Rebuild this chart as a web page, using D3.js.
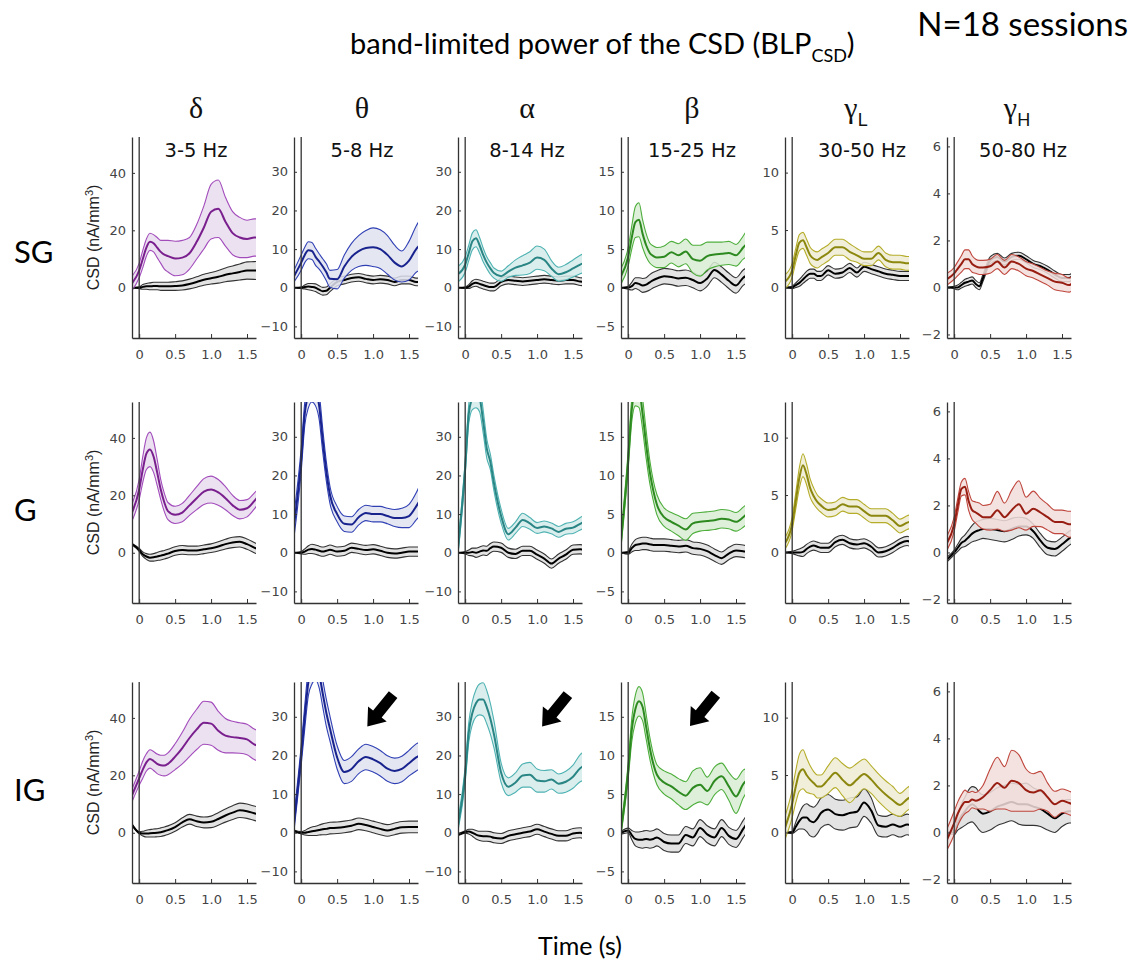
<!DOCTYPE html>
<html>
<head>
<meta charset="utf-8">
<script src="https://cdn.jsdelivr.net/npm/d3@7"></script>
<style>
  body { margin: 0; background: #fff; }
  svg { display: block; }
</style>
</head>
<body>
<svg id="chart" width="1139" height="970"></svg>
<script>
// ---- data ----
const times = [-0.1, 0, 0.05, 0.1, 0.15, 0.2, 0.25, 0.3, 0.35, 0.4, 0.5, 0.6, 0.7, 0.8, 0.9, 1.0, 1.1, 1.2, 1.3, 1.4, 1.5, 1.6, 1.65];

const bandSymbols = ['δ', 'θ', 'α', 'β', 'γ', 'γ'];
const bandSubs = ['', '', '', '', 'L', 'H'];
const bandRanges = ['3-5 Hz', '5-8 Hz', '8-14 Hz', '15-25 Hz', '30-50 Hz', '50-80 Hz'];
const layers = ['SG', 'G', 'IG'];

const yDomains = [[-17.5, 52.5], [-13, 39], [-13, 39], [-6.5, 19.5], [-4.4, 13.1], [-2.15, 6.4]];
const yTickValues = [[0, 20, 40], [-10, 0, 10, 20, 30], [-10, 0, 10, 20, 30], [-5, 0, 5, 10, 15], [0, 5, 10], [-2, 0, 2, 4, 6]];
const xTickValues = [0, 0.5, 1.0, 1.5];

// SG: stimulus band power (mean, sem) and control (mean, sem)
const sgMean = [
  [1.5, 6, 10, 14, 16, 15.5, 14, 12.5, 11.5, 11, 10.2, 10.5, 12, 16, 21, 26.5, 27.5, 23, 19, 17.5, 17, 17.5, 17.5],
  [3, 6.5, 8.5, 9.7, 9.5, 8, 6.8, 5.5, 4, 2.3, 2.2, 5.5, 8, 9.5, 10.3, 10.5, 10, 8.5, 6.5, 5.5, 7, 10, 11],
  [3.5, 6, 9, 12, 12.8, 11, 8.5, 6.5, 5, 3.8, 3, 4.2, 5.2, 5.8, 6.5, 7.8, 7.2, 5, 3.5, 4, 5, 6, 6.4],
  [1.5, 4, 6.5, 8.5, 8.8, 7, 5.5, 4.5, 4.1, 3.9, 4, 4.6, 4.2, 4.7, 3.7, 3.5, 4.1, 4.3, 4.4, 4.5, 4.2, 5.2, 5.7],
  [0.5, 1.5, 2.8, 3.9, 4.1, 3.5, 2.8, 2.5, 2.4, 2.6, 3, 3.5, 3.5, 3.1, 2.8, 2.5, 2.5, 3, 2.4, 2.2, 2.2, 2.1, 2.1],
  [0.35, 0.6, 0.8, 1.0, 1.2, 1.2, 1.0, 0.9, 0.85, 0.85, 0.9, 1.1, 0.85, 1.1, 1.0, 0.8, 0.7, 0.55, 0.4, 0.25, 0.2, 0.1, 0.2]
];
const sgErr = [
  [2.5, 2.5, 3, 3, 3, 3, 3.5, 4, 5, 5.5, 6, 6, 5.5, 6, 7.5, 9.5, 10, 8.5, 7.5, 7, 6.5, 6.5, 6.5],
  [1.5, 2, 2, 2.2, 2.2, 2.2, 2, 2, 2.2, 2.2, 2.5, 3, 3.5, 4, 4.5, 5, 5, 5, 4.5, 4, 5, 6, 6.5],
  [2, 2, 2, 2.2, 2.2, 2, 1.8, 1.5, 1.5, 1.3, 1.3, 1.5, 2, 2.5, 2.8, 3, 2.8, 2, 1.8, 2, 2.2, 2.4, 2.4],
  [1, 1.2, 1.5, 2, 2.2, 1.8, 1.5, 1.3, 1.3, 1.3, 1.4, 1.4, 1.5, 1.6, 1.8, 2, 1.8, 1.6, 1.5, 1.5, 1.4, 1.5, 1.7],
  [0.6, 0.6, 0.6, 0.7, 0.7, 0.7, 0.7, 0.7, 0.7, 0.7, 0.7, 0.7, 0.7, 0.7, 0.6, 0.6, 0.6, 0.6, 0.6, 0.6, 0.6, 0.6, 0.6],
  [0.25, 0.25, 0.3, 0.35, 0.4, 0.4, 0.35, 0.3, 0.3, 0.3, 0.3, 0.3, 0.3, 0.3, 0.3, 0.3, 0.3, 0.3, 0.3, 0.35, 0.35, 0.3, 0.3]
];
const sgCtrl = [
  [0, 0, 0.3, 0.5, 0.5, 0.6, 0.6, 0.5, 0.5, 0.5, 0.6, 0.8, 1.3, 2, 2.8, 3.3, 3.8, 4.5, 5, 5.5, 6, 6, 6],
  [0, 0, 0.2, 0.3, 0.2, 0, -0.5, -0.9, -0.8, 0, 1.5, 2, 2.5, 2.7, 2.3, 2, 2.2, 2, 1.5, 2, 2, 1.5, 1.5],
  [0, 0, 0.3, 1, 1.3, 1, 0.7, 0.4, 0.2, 0.2, 1.5, 2, 1.8, 1.6, 1.8, 2, 2.2, 2, 1.8, 2, 2, 1.6, 1.5],
  [0, 0, 0.2, 0.6, 0.5, 0.3, 0.4, 0.7, 1, 1.2, 1.5, 1.4, 1.2, 1.3, 1, 0.6, 1.2, 2.3, 1.7, 0.9, 0.3, 1.3, 1.6],
  [0, 0, 0.2, 0.4, 0.7, 1, 1.2, 1.2, 1, 1, 1.5, 1.2, 1.3, 1.7, 1.3, 1.8, 1.6, 1.4, 1.2, 1.1, 1, 1, 1],
  [0, 0, 0, 0.1, 0.2, 0.25, 0.3, 0.15, 0.05, 0.4, 1.15, 1.3, 1.1, 1.3, 1.35, 1.2, 1.0, 0.9, 0.75, 0.55, 0.4, 0.4, 0.5]
];
const sgCtrlErr = [
  [0, 0.3, 0.8, 1, 1.2, 1.3, 1.3, 1.4, 1.4, 1.4, 1.5, 1.6, 1.7, 1.8, 1.9, 2, 2.2, 2.4, 2.6, 2.8, 3, 3.1, 3.2],
  [0, 0.2, 0.5, 0.8, 0.9, 1, 1, 1, 1, 1, 1, 1, 1, 1, 1, 1, 1, 1, 1, 1, 1, 1, 1],
  [0, 0.2, 0.5, 0.8, 0.9, 1, 1, 1, 1, 1, 1, 1, 1, 1, 1, 1, 1, 1, 1, 1, 1, 1, 1],
  [0, 0.2, 0.5, 0.7, 0.8, 0.9, 0.9, 1, 1, 1, 1, 1, 1, 1, 1, 1, 1, 1, 1, 1, 1, 1, 1],
  [0, 0.1, 0.2, 0.3, 0.35, 0.4, 0.4, 0.4, 0.4, 0.4, 0.4, 0.4, 0.4, 0.4, 0.4, 0.4, 0.4, 0.4, 0.4, 0.4, 0.4, 0.4, 0.4],
  [0, 0.05, 0.1, 0.12, 0.15, 0.15, 0.15, 0.15, 0.15, 0.15, 0.15, 0.15, 0.15, 0.15, 0.15, 0.15, 0.15, 0.15, 0.15, 0.15, 0.15, 0.15, 0.15]
];

// G
const gMean = [
  [14, 22, 29, 34.5, 36, 33.5, 28, 22, 17.5, 14.5, 13.2, 14, 16.5, 19, 21.3, 22, 21, 19, 16.5, 15, 15.5, 18, 19.5],
  [7, 24, 36, 41, 43, 42, 38, 29, 21, 15, 10, 7.5, 7.3, 9.2, 10.3, 10, 10, 9.5, 9, 9, 9.5, 12, 13.5],
  [1, 22, 36, 40, 41, 40, 34, 27, 23.5, 18, 9.5, 4.8, 6.5, 8.5, 7.6, 6.4, 6.8, 6.3, 5.4, 6.2, 6.5, 7.5, 8],
  [1.5, 12, 18.5, 21, 21, 18, 14, 10.5, 8, 6.2, 4.6, 4, 3.5, 3, 3.8, 4, 4.1, 4.2, 4.4, 4.3, 4, 4.6, 5],
  [0.8, 2.5, 4.5, 6.5, 7.6, 6.8, 5.6, 4.9, 4.4, 4.1, 3.7, 3.8, 4.2, 4, 4, 3.6, 3.2, 3.2, 3.2, 2.8, 2.3, 2.6, 2.7],
  [0.4, 1.2, 2, 2.7, 2.8, 2.2, 1.8, 1.7, 1.6, 1.5, 1.5, 1.8, 1.5, 1.8, 2.05, 1.65, 1.86, 1.7, 1.5, 1.3, 1.3, 1.2, 1.2]
];
const gErr = [
  [3, 3.5, 4.5, 5.5, 6, 5.5, 4.5, 3.5, 3.2, 3, 3, 3.2, 3.5, 4, 4.5, 4.7, 4.5, 4, 3.5, 3.2, 3, 2.8, 2.6],
  [3, 3, 3, 3.5, 4, 4, 3.5, 3, 2.5, 2.2, 2, 2, 2, 2, 2, 2, 2, 2, 2.2, 2.5, 3, 3.5, 4],
  [1.5, 2, 2.5, 3, 3.5, 3.5, 3, 2.5, 2, 2, 1.8, 1.5, 1.5, 1.7, 1.5, 1.4, 1.4, 1.4, 1.4, 1.4, 1.5, 1.6, 1.7],
  [0.8, 1.2, 1.5, 2, 2.2, 2, 1.8, 1.5, 1.3, 1.3, 1.2, 1.2, 1.3, 1.4, 1.3, 1.2, 1.2, 1.2, 1.2, 1.2, 1.2, 1.3, 1.3],
  [0.5, 0.6, 0.7, 0.9, 1, 0.9, 0.8, 0.7, 0.6, 0.6, 0.6, 0.6, 0.6, 0.6, 0.6, 0.6, 0.6, 0.6, 0.6, 0.6, 0.6, 0.6, 0.6],
  [0.3, 0.3, 0.3, 0.3, 0.35, 0.4, 0.4, 0.45, 0.5, 0.5, 0.55, 0.8, 0.6, 0.85, 1.0, 0.7, 0.75, 0.6, 0.55, 0.5, 0.5, 0.55, 0.55]
];
const gCtrl = [
  [3, 1, -0.5, -1.3, -1.7, -1.6, -1.3, -1, -0.7, -0.3, 0.6, 1, 0.8, 0.8, 1.2, 1.6, 2.2, 3, 3.6, 3.8, 3, 1.8, 1.2],
  [0, 0, 0.3, 0.8, 1, 0.8, 0.5, 0.3, 0.5, 0.8, 0.3, 0.5, 1.3, 1, 0.7, 0.9, 0.5, 0, -0.2, 0, 0.3, 0.3, 0.3],
  [0, 0, 0, 0.2, 0, 0.3, 0.6, 0.5, 1.2, 1.6, 1.3, 0, -0.3, 0.5, 0.5, -0.5, -1.5, -2.8, -1.5, -0.5, 0.8, 0.9, 0.7],
  [0, 0, 0.6, 1, 1.1, 1.2, 1.2, 1.1, 1, 1, 1, 0.9, 0.8, 0.9, 0.6, 0.5, 0.2, -0.3, -0.7, -0.1, 0.3, 0.2, 0.1],
  [0, 0, 0, 0, 0.05, 0.3, 0.5, 0.6, 0.5, 0.4, 0.4, 0.9, 1.1, 0.8, 0.7, 0.8, 0.5, 0, 0.1, 0.4, 0.8, 1, 0.9],
  [-0.3, 0, 0.2, 0.4, 0.5, 0.65, 0.8, 0.9, 0.95, 1, 1, 0.95, 0.9, 1, 1.1, 1.1, 0.9, 0.5, 0.2, 0.15, 0.35, 0.6, 0.7]
];
const gCtrlErr = [
  [0.2, 0.5, 0.8, 1, 1.2, 1.3, 1.4, 1.5, 1.5, 1.5, 1.5, 1.5, 1.5, 1.5, 1.5, 1.5, 1.6, 1.7, 1.8, 1.8, 1.8, 1.8, 1.8],
  [0, 0.3, 0.7, 1, 1.2, 1.2, 1.2, 1.2, 1.2, 1.2, 1.2, 1.2, 1.2, 1.2, 1.2, 1.2, 1.2, 1.2, 1.2, 1.2, 1.2, 1.2, 1.2],
  [0, 0.3, 0.7, 1, 1.2, 1.2, 1.2, 1.2, 1.2, 1.2, 1.2, 1.2, 1.2, 1.2, 1.2, 1.2, 1.2, 1.2, 1.2, 1.2, 1.2, 1.2, 1.2],
  [0, 0.2, 0.5, 0.7, 0.8, 0.8, 0.8, 0.8, 0.8, 0.8, 0.8, 0.8, 0.8, 0.8, 0.8, 0.8, 0.8, 0.8, 0.8, 0.8, 0.8, 0.8, 0.8],
  [0, 0.1, 0.2, 0.3, 0.4, 0.4, 0.4, 0.4, 0.4, 0.4, 0.4, 0.4, 0.4, 0.4, 0.4, 0.4, 0.4, 0.4, 0.4, 0.4, 0.4, 0.4, 0.4],
  [0.1, 0.1, 0.15, 0.2, 0.25, 0.3, 0.35, 0.4, 0.4, 0.4, 0.45, 0.45, 0.45, 0.45, 0.4, 0.35, 0.3, 0.3, 0.3, 0.3, 0.3, 0.3, 0.3]
];

// IG
const igMean = [
  [13, 19, 22, 24.5, 25.7, 25, 24, 23.5, 23.4, 24, 26.5, 29.5, 33, 36, 38.3, 38, 35.5, 33.8, 33.3, 33, 32.5, 30.8, 30.3],
  [2.5, 20, 30, 39, 42, 43, 41, 36, 31, 27, 19.5, 15.7, 16.5, 18.5, 19.6, 19, 18, 16.6, 16, 16.5, 18, 19.5, 20],
  [2, 15, 26, 31, 33.5, 34.5, 34.5, 32.5, 29.5, 25.5, 15.5, 11.9, 13, 14.8, 15, 13.5, 13.3, 13.8, 12.7, 13.2, 14.5, 16.7, 17.3],
  [0.3, 8, 13.3, 16, 17, 16.3, 13.7, 11, 8.9, 7.5, 6.5, 6, 5.3, 4.8, 5.8, 6.2, 5.4, 6.7, 7.3, 6, 4.7, 6.3, 6.8],
  [0.4, 2.5, 4, 5.2, 5.5, 5, 4.6, 4.3, 4, 4, 4.6, 5.2, 4.6, 4.1, 4.6, 5.1, 4.6, 3.9, 3.3, 2.8, 2.4, 2.9, 3.1],
  [-0.3, 0.4, 0.8, 1.1, 1.3, 1.3, 1.4, 1.35, 1.4, 1.5, 1.8, 2.1, 1.9, 2.2, 2.1, 1.8, 1.7, 1.8, 1.5, 1.2, 1.35, 1.25, 1.2]
];
const igErr = [
  [2.2, 2.5, 3, 3, 3.2, 3.3, 3.4, 3.5, 3.6, 3.8, 4.5, 5.5, 6.5, 7, 7.5, 7.5, 6.8, 6, 5.5, 5.3, 5.3, 5.3, 5.3],
  [2, 2.5, 3, 3.5, 3.5, 3.5, 3.5, 3.5, 3.5, 3.2, 3, 3, 3.2, 3.2, 3.3, 3.3, 3.3, 3.3, 3.3, 3.3, 3.3, 3.5, 3.5],
  [1.5, 2, 2.5, 3, 3.5, 4, 4.3, 4.3, 4, 3.5, 2.5, 2.3, 2.5, 3, 3.2, 3, 2.8, 2.5, 2.5, 2.7, 3, 3.5, 3.7],
  [0.5, 1, 1.5, 1.8, 1.9, 1.8, 1.6, 1.4, 1.3, 1.3, 1.5, 1.6, 1.7, 1.8, 2.2, 2.2, 1.8, 1.8, 1.7, 1.8, 2.2, 1.8, 1.5],
  [1, 1.2, 1.4, 1.6, 1.7, 1.5, 1.2, 1, 1, 1, 1.2, 1.3, 1.4, 1.5, 1.4, 1.3, 1.2, 1.2, 1.2, 1.2, 1, 1, 1],
  [0.45, 0.5, 0.5, 0.5, 0.5, 0.4, 0.35, 0.35, 0.4, 0.5, 0.9, 1.1, 0.9, 1.3, 1.2, 0.9, 0.8, 0.8, 0.6, 0.55, 0.5, 0.5, 0.5]
];
const igCtrl = [
  [2.8, 0, -0.3, -0.3, -0.2, -0.1, 0, 0.2, 0.5, 0.9, 2, 3.6, 4.7, 4, 3.6, 3.8, 4.8, 6, 7, 7.8, 7.5, 6.8, 6.5],
  [0.5, 0, 0, 0.2, 0.4, 0.5, 0.7, 0.9, 1, 1.2, 1.3, 1.5, 1.8, 2.3, 2, 1.5, 1, 0.6, 1, 1.4, 1.5, 1.5, 1.5],
  [-0.5, 0.2, 0.3, 0, -0.5, -0.8, -0.9, -0.9, -1, -1.3, -1.5, -0.8, -0.4, 0, 0.3, 0.9, 0.3, -0.3, -0.8, -0.8, -0.2, 0, -0.3],
  [0, 0.3, -0.3, -0.8, -0.9, -0.9, -0.8, -0.9, -0.8, -0.6, -1.2, -1.4, -1.4, -0.3, -0.6, 0.6, -0.2, -0.6, 0.6, -0.4, -0.8, 0.5, 1.2],
  [0, 0, 0.5, 1, 1.3, 1.3, 1, 0.9, 1.2, 1.7, 2, 1.6, 1.5, 1.7, 1.8, 2.6, 1.9, 0.6, 0.5, 0.7, 0.5, 0.7, 0.6],
  [0, 0, 0.4, 0.7, 0.9, 1.1, 1.2, 1.1, 0.9, 0.8, 0.9, 1.1, 1.2, 1.3, 1.2, 1.2, 1.1, 1.0, 0.8, 0.6, 0.8, 0.9, 0.9]
];
const igCtrlErr = [
  [0.3, 0.4, 0.8, 1.2, 1.3, 1.4, 1.4, 1.5, 1.5, 1.5, 1.5, 1.6, 1.7, 1.8, 1.9, 2, 2.2, 2.3, 2.4, 2.5, 2.5, 2.5, 2.5],
  [0.2, 0.3, 0.6, 0.9, 1.1, 1.2, 1.3, 1.4, 1.5, 1.5, 1.5, 1.5, 1.5, 1.5, 1.5, 1.5, 1.5, 1.5, 1.5, 1.5, 1.5, 1.5, 1.5],
  [0.3, 0.3, 0.6, 0.9, 1.1, 1.2, 1.3, 1.3, 1.3, 1.3, 1.3, 1.3, 1.3, 1.3, 1.3, 1.3, 1.3, 1.3, 1.3, 1.3, 1.3, 1.3, 1.3],
  [0.2, 0.3, 0.6, 0.9, 1, 1.1, 1.1, 1.1, 1.1, 1.1, 1.1, 1.1, 1.1, 1.1, 1.1, 1.1, 1.1, 1.1, 1.1, 1.1, 1.1, 1.1, 1.1],
  [0, 0.1, 0.4, 0.7, 1, 1.2, 1.3, 1.3, 1.3, 1.3, 1.3, 1.3, 1.3, 1.3, 1.3, 1.2, 1.1, 0.9, 0.9, 0.9, 0.9, 0.9, 0.9],
  [0, 0.1, 0.3, 0.5, 0.6, 0.7, 0.75, 0.8, 0.8, 0.8, 0.8, 0.8, 0.8, 0.8, 0.85, 0.9, 0.8, 0.75, 0.7, 0.6, 0.55, 0.5, 0.5]
];

// arrows in the IG row: [column, time, value] of the arrow tip
const arrowTips = [[1, 0.92, 27.5], [2, 1.07, 27.5], [3, 0.86, 13.8]];

// ---- layout / style ----
const rowMean = [sgMean, gMean, igMean];
const rowErr = [sgErr, gErr, igErr];
const rowCtrl = [sgCtrl, gCtrl, igCtrl];
const rowCtrlErr = [sgCtrlErr, gCtrlErr, igCtrlErr];

const colLeft = [132, 294, 458, 621, 785, 947];
const rowTop = [137, 402, 682];
const pw = 124, ph = 201;
const rangeShift = [2, 6, 7, 9, 15, 14];

const palette = [
  { edge: '#a24bbb', mean: '#7a1f8e', fill: '#e9dcee' },
  { edge: '#3040b4', mean: '#18238e', fill: '#dfe2f0' },
  { edge: '#4fb2b2', mean: '#2a8585', fill: '#d5ebeb' },
  { edge: '#4dae3c', mean: '#2d8a20', fill: '#d9edd3' },
  { edge: '#b5ad2a', mean: '#8c870e', fill: '#eeecd4' },
  { edge: '#bf463d', mean: '#981d12', fill: '#f1ddd9' }
];
const ctrlStyle = { edge: '#333', mean: '#000', fill: '#e3e3e3' };

const svg = d3.select('#chart');
const x = d3.scaleLinear().domain([-0.1, 1.625]).range([0, pw]);

function drawBand(g, y, mean, err, st, fillOpacity) {
  const pts = times.map((t, i) => ({ t, m: mean[i], e: err[i] }));
  const curve = d3.curveMonotoneX;
  g.append('path').datum(pts)
    .attr('d', d3.area().x(d => x(d.t)).y0(d => y(d.m - d.e)).y1(d => y(d.m + d.e)).curve(curve))
    .attr('fill', st.fill).attr('fill-opacity', fillOpacity);
  [-1, 1].forEach(s => {
    g.append('path').datum(pts)
      .attr('d', d3.line().x(d => x(d.t)).y(d => y(d.m + s * d.e)).curve(curve))
      .attr('fill', 'none').attr('stroke', st.edge).attr('stroke-width', 1.1);
  });
  g.append('path').datum(pts)
    .attr('d', d3.line().x(d => x(d.t)).y(d => y(d.m)).curve(curve))
    .attr('fill', 'none').attr('stroke', st.mean).attr('stroke-width', 2);
}

layers.forEach((layer, ri) => {
  bandSymbols.forEach((sym, ci) => {
    const y = d3.scaleLinear().domain(yDomains[ci]).range([ph, 0]);
    const g = svg.append('g').attr('transform', `translate(${colLeft[ci]},${rowTop[ri]})`);

    const clipId = `clip-${ri}-${ci}`;
    g.append('clipPath').attr('id', clipId)
      .append('rect').attr('x', 0).attr('y', 0).attr('width', pw).attr('height', ph);
    const plot = g.append('g').attr('clip-path', `url(#${clipId})`);

    drawBand(plot, y, rowCtrl[ri][ci], rowCtrlErr[ri][ci], ctrlStyle, 1);
    drawBand(plot, y, rowMean[ri][ci], rowErr[ri][ci], palette[ci], 0.85);

    // stimulus onset line
    g.append('line')
      .attr('x1', x(0)).attr('x2', x(0)).attr('y1', 0).attr('y2', ph)
      .attr('stroke', '#333').attr('stroke-width', 1.3);

    const yAxis = g.append('g')
      .call(d3.axisLeft(y).tickValues(yTickValues[ci]).tickSizeInner(-3).tickSizeOuter(0).tickPadding(6));
    const xAxis = g.append('g').attr('transform', `translate(0,${ph})`)
      .call(d3.axisBottom(x).tickValues(xTickValues).tickSizeInner(-4).tickSizeOuter(0).tickPadding(12)
        .tickFormat(d => d === 0 ? '0' : d3.format('.1f')(d)));
    [yAxis, xAxis].forEach(a => {
      a.select('.domain').attr('stroke', '#333').attr('stroke-width', 1.3);
      a.selectAll('.tick line').attr('stroke', '#333');
      a.selectAll('text').attr('font-family', 'DejaVu Sans').attr('font-size', 13).attr('fill', '#444');
    });

    if (ci === 0) {
      const lab = svg.append('text')
        .attr('transform', `translate(${colLeft[0] - 33},${rowTop[ri] + ph / 2}) rotate(-90)`)
        .attr('text-anchor', 'middle')
        .attr('font-family', 'Liberation Sans').attr('font-size', 16).attr('fill', '#222');
      lab.append('tspan').text('CSD (nA/mm');
      lab.append('tspan').attr('font-size', 11).attr('dy', -6).text('3');
      lab.append('tspan').attr('dy', 6).text(')');
    }

    if (ri === 0) {
      const head = svg.append('text')
        .attr('x', colLeft[ci] + pw / 2 + rangeShift[ci] - (bandSubs[ci] ? 6 : 0))
        .attr('y', 118)
        .attr('text-anchor', 'middle')
        .attr('font-family', 'Liberation Serif').attr('font-size', 30).attr('fill', '#111');
      head.append('tspan').text(sym);
      if (bandSubs[ci]) {
        head.append('tspan').attr('font-family', 'Liberation Sans').attr('font-size', 18).attr('dy', 8).text(bandSubs[ci]);
      }
      svg.append('text')
        .attr('x', colLeft[ci] + pw / 2 + rangeShift[ci]).attr('y', 157)
        .attr('text-anchor', 'middle')
        .attr('font-family', 'DejaVu Sans').attr('font-size', 19.5).attr('fill', '#111')
        .text(bandRanges[ci]);
    }

    if (ri === 2) {
      arrowTips.filter(a => a[0] === ci).forEach(a => {
        svg.append('path')
          .attr('transform', `translate(${colLeft[ci] + x(a[1])},${rowTop[ri] + y(a[2])}) rotate(-51)`)
          .attr('d', 'M0,0 L16,-12 L16,-5.5 L41,-5.5 L41,5.5 L16,5.5 L16,12 Z')
          .attr('fill', '#000');
      });
    }
  });

  svg.append('text')
    .attr('x', 14).attr('y', [263, 521, 801][ri])
    .attr('font-family', 'Lato').attr('font-size', 31).attr('fill', '#000')
    .text(layer);
});

// titles
const title = svg.append('text')
  .attr('x', 350).attr('y', 54)
  .attr('font-family', 'Lato').attr('font-size', 29).attr('fill', '#000');
title.append('tspan').text('band-limited power of the CSD (BLP');
title.append('tspan').attr('font-size', 18).attr('dy', 8).text('CSD');
title.append('tspan').attr('dy', -8).text(')');

svg.append('text')
  .attr('x', 1128).attr('y', 36).attr('text-anchor', 'end')
  .attr('font-family', 'Lato').attr('font-size', 33).attr('fill', '#000')
  .text('N=18 sessions');

svg.append('text')
  .attr('x', 580).attr('y', 955).attr('text-anchor', 'middle')
  .attr('font-family', 'Lato').attr('font-size', 25).attr('fill', '#000')
  .text('Time (s)');
</script>
</body>
</html>
